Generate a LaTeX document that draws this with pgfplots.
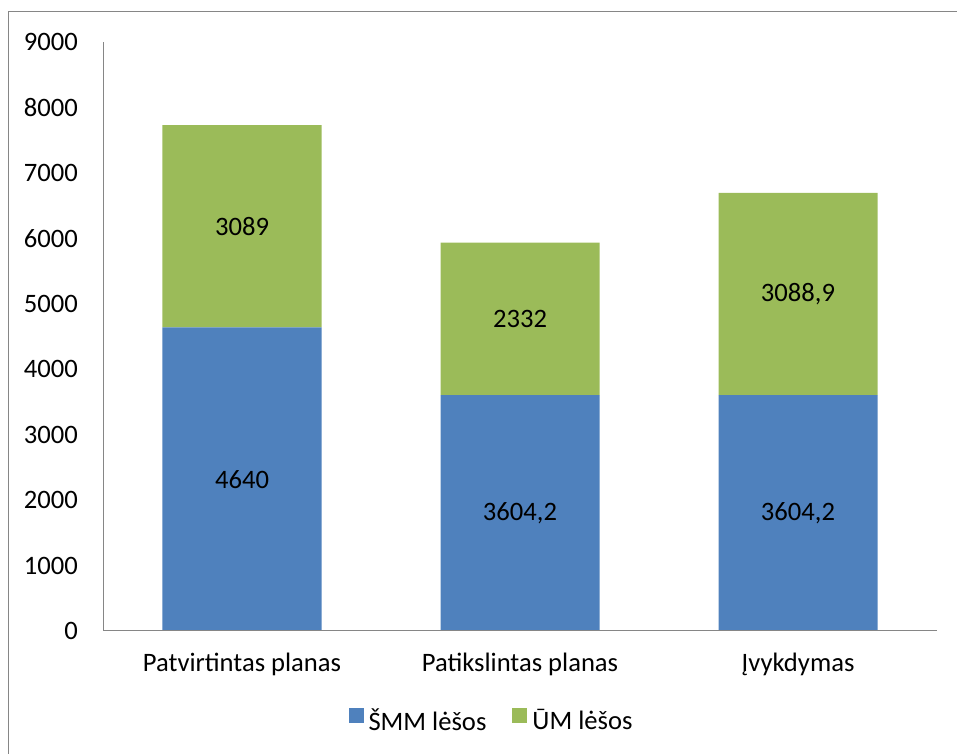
\documentclass[border=0pt]{standalone}
\usepackage{pgfplots}
\pgfplotsset{compat=1.18}
\usepackage{pgfplotstable}
\usepackage{fontspec}
\setmainfont{Carlito}
\definecolor{smm}{HTML}{4F81BD}
\definecolor{um}{HTML}{9BBB59}
\definecolor{axgray}{HTML}{868686}

\pgfplotstableread{
x smm um
0 4640 3089
1 3604.2 2332
2 3604.2 3088.9
}\data

\pgfplotstableread{
x y label
0 2320 4640
0 6184.5 3089
1 1802.1 3604,2
1 4770.2 2332
2 1802.1 3604,2
2 5148.65 3088,9
}\labels

\begin{document}
\fontsize{26.6bp}{31bp}\selectfont
\begin{tikzpicture}[x=1bp,y=1bp]
\useasboundingbox (0,0) rectangle (957,754);
\draw[axgray, line width=1bp] (8,-5) -- (8,742) -- (965,742);
\begin{axis}[
  at={(103bp,123bp)}, anchor=south west,
  scale only axis, width=834bp, height=589bp,
  xmin=-0.5, xmax=2.5, ymin=0, ymax=9000,
  enlargelimits=false,
  axis x line*=bottom, axis y line*=left,
  axis line style={-, draw=axgray, line width=1bp},
  every inner x axis line/.append style={-},
  every inner y axis line/.append style={-},
  every outer x axis line/.append style={-},
  every outer y axis line/.append style={-},
  major tick length=0pt,
  xtick={0,1,2},
  xticklabels={Patvirtintas planas, Patikslintas planas, Įvykdymas},
  ytick={0,1000,...,9000},
  yticklabels={0,1000,2000,3000,4000,5000,6000,7000,8000,9000},
  xticklabel style={anchor=base, inner sep=0pt, yshift=-41bp},
  yticklabel style={anchor=east, inner sep=0pt, xshift=-25bp},
  ybar stacked, bar width=0.572,
  axis on top,
  legend columns=2,
  legend image code/.code={\fill[#1] (0bp,-1bp) rectangle (15bp,14bp);},
  legend style={at={(0.4646,-0.1528)}, anchor=center, draw=none, fill=none,
    nodes={inner sep=0pt},
    /tikz/every odd column/.append style={column sep=5bp},
    /tikz/every even column/.append style={column sep=26bp}},
]
\addplot[fill=smm, draw=none] table[x=x, y=smm] {\data};
\addplot[fill=um, draw=none] table[x=x, y=um] {\data};
\legend{ŠMM lėšos, ŪM lėšos}
\end{axis}
\begin{axis}[
  at={(103bp,123bp)}, anchor=south west,
  scale only axis, width=834bp, height=589bp,
  xmin=-0.5, xmax=2.5, ymin=0, ymax=9000,
  enlargelimits=false, hide axis,
]
\addplot[only marks, mark=none, point meta=explicit symbolic,
  nodes near coords={\pgfplotspointmeta},
  nodes near coords style={anchor=center, inner sep=0pt, text=black}]
  table[x=x, y=y, meta=label] {\labels};
\end{axis}
\end{tikzpicture}
\end{document}
